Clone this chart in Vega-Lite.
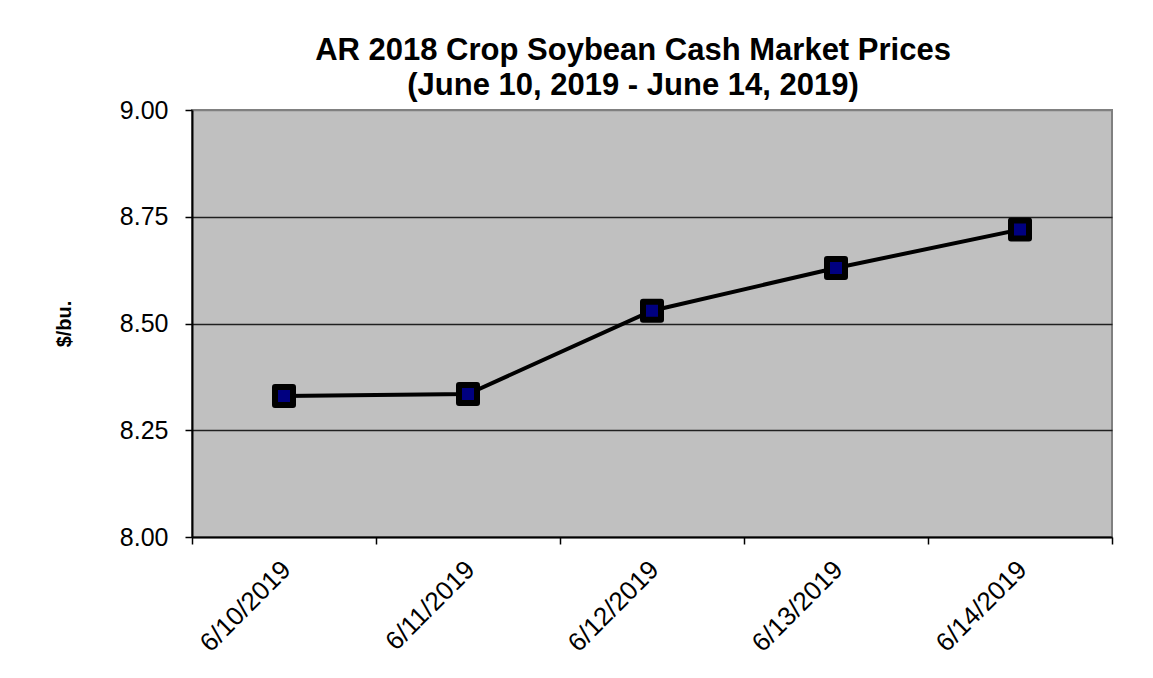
{
  "$schema": "https://vega.github.io/schema/vega-lite/v6.json",
  "width": 920,
  "height": 427,
  "autosize": {"type": "none"},
  "padding": {"left": 192, "top": 110, "right": 41, "bottom": 141},
  "background": "white",
  "title": {
    "text": ["AR 2018 Crop Soybean Cash Market Prices", "(June 10, 2019 - June 14, 2019)"],
    "font": "Liberation Sans",
    "fontSize": 31,
    "fontWeight": "bold",
    "color": "black",
    "lineHeight": 35,
    "anchor": "middle",
    "frame": "group",
    "offset": -4,
    "dx": -19
  },
  "data": {
    "values": [
      {"date": "6/10/2019", "price": 8.33},
      {"date": "6/11/2019", "price": 8.335},
      {"date": "6/12/2019", "price": 8.53},
      {"date": "6/13/2019", "price": 8.63},
      {"date": "6/14/2019", "price": 8.72}
    ]
  },
  "encoding": {
    "x": {
      "field": "date",
      "type": "ordinal",
      "sort": null,
      "scale": {"type": "band", "paddingInner": 0, "paddingOuter": 0},
      "axis": {
        "title": null,
        "labelAngle": -45,
        "labelFont": "Liberation Sans",
        "labelFontSize": 26,
        "labelColor": "black",
        "labelPadding": 12,
        "labelOffset": -7,
        "tickBand": "extent",
        "tickColor": "black",
        "tickSize": 7,
        "tickWidth": 1.5,
        "domainColor": "black",
        "domainWidth": 2,
        "grid": false
      }
    },
    "y": {
      "field": "price",
      "type": "quantitative",
      "scale": {"domain": [8, 9], "nice": false, "zero": false},
      "axis": {
        "values": [8, 8.25, 8.5, 8.75, 9],
        "format": ".2f",
        "title": "$/bu.",
        "titleFont": "Liberation Sans",
        "titleFontSize": 20,
        "titleFontWeight": "bold",
        "titleColor": "black",
        "titlePadding": 45,
        "labelFont": "Liberation Sans",
        "labelFontSize": 25,
        "labelColor": "black",
        "labelPadding": 17,
        "tickColor": "black",
        "tickSize": 7,
        "tickWidth": 1.5,
        "domainColor": "black",
        "domainWidth": 2,
        "grid": true,
        "gridColor": {"condition": {"test": "datum.value >= 9 || datum.value <= 8", "value": "#808080"}, "value": "#202020"},
        "gridWidth": 1.5,
        "gridOpacity": 1
      }
    }
  },
  "layer": [
    {"mark": {"type": "line", "color": "black", "strokeWidth": 4}},
    {"mark": {"type": "point", "shape": "square", "size": 324, "filled": true, "fill": "#000080", "stroke": "black", "strokeWidth": 6, "strokeJoin": "round", "opacity": 1}}
  ],
  "config": {
    "view": {"fill": "#c0c0c0", "stroke": "#808080", "strokeWidth": 2}
  }
}
